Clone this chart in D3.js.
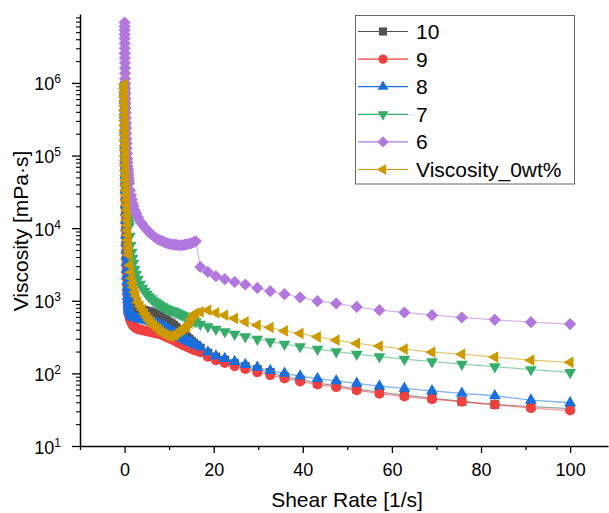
<!DOCTYPE html>
<html><head><meta charset="utf-8">
<script src="https://cdn.jsdelivr.net/npm/d3@7"></script>
<style>body{margin:0;background:#fff} text{font-family:"Liberation Sans",Arial,sans-serif;fill:#000}</style>
</head><body><svg id="c" width="609" height="513"></svg>
<script>
// ---- data ----
const shearRate = [0.01,0.015,0.02,0.025,0.03,0.04,0.05,0.06,0.07,0.085,0.1,0.115,0.13,0.145,0.16,0.18,0.2,0.225,0.25,0.275,0.3,0.325,0.35,0.375,0.4,0.45,0.5,0.55,0.6,0.65,0.7,0.75,0.8,0.85,0.9,0.95,1.0,
  1.2,1.4,1.6,1.8,2.0,2.3,2.6,3.0,3.5,4,4.5,5,5.5,6,6.5,7,7.5,8,8.5,9,9.5,10,10.5,11,11.5,12,12.5,13,13.5,14,14.5,15,15.5,16,
  17.0,18.7,20.5,22.5,24.7,27.1,29.8,32.7,35.9,39.4,43.3,47.5,52.1,57.2,62.8,69.0,75.7,83.1,91.2,100];

const visc10 = [9.25e5,7.4e5,5.93e5,4.75e5,3.8e5,3.05e5,2.44e5,1.96e5,1.57e5,1.26e5,1.01e5,8.1e4,6.46e4,5.2e4,4.15e4,3.3e4,2.66e4,2.13e4,1.71e4,1.37e4,1.10e4,8800,7040,5730,4660,3800,3090,2600,2180,1890,1640,1470,1310,1210,1120,1060,1003,
  927,870,843,817,804,791,778,766,755,743,731,719,708,697,675,654,634,614,586,558,532,508,484,462,433,407,382,358,336,316,296,278,261,245,
  223,190,168,152,136,124,113,103,89.8,82.2,73.5,67.9,60.8,55.3,50.3,45.7,41.0,37.2,34.9,32.8];
const visc9 = [8.95e5,7.06e5,5.57e5,4.39e5,3.46e5,2.73e5,2.15e5,1.7e5,1.34e5,1.06e5,8.32e4,6.56e4,5.18e4,4.08e4,3.22e4,2.54e4,2.0e4,1.57e4,1.24e4,9800,7740,6100,4810,3920,3190,2560,2050,1690,1400,1210,1052,942,843,779,719,675,634,
  567,524,492,469,454,433,420,407,400,394,388,382,376,370,364,358,353,347,336,326,316,306,296,287,278,265,257,249,241,234,226,219,212,206,
  196,170,152,139,126,115,104,94.8,85.4,77.6,70.2,64.8,58.9,52.7,48.0,44.3,40.7,37.2,33.3,30.8];
const visc8 = [9.25e5,7.3e5,5.7e5,4.5e5,3.57e5,2.82e5,2.22e5,1.75e5,1.38e5,1.09e5,8.6e4,6.8e4,5.34e4,4.2e4,3.32e4,2.62e4,2.07e4,1.63e4,1.28e4,1.01e4,7980,6300,4970,4040,3290,2680,2180,1830,1540,1340,1160,1040,927,856,791,754,719,
  665,634,614,604,595,586,577,567,558,550,541,532,524,516,500,492,477,462,448,433,420,400,382,364,347,331,316,306,296,283,274,265,257,245,
  230,196,173,160,145,132,121,109,100,91.8,84.8,79.1,72.8,66.9,62.2,57.6,53.1,49.2,42.9,39.4];
const visc7 = [8.95e5,8.0e5,7.2e5,6.4e5,5.7e5,5.05e5,4.46e5,3.93e5,3.46e5,3.05e5,2.69e5,2.37e5,2.08e5,1.84e5,1.62e5,1.43e5,1.26e5,1.11e5,9.75e4,8.6e4,7.57e4,6.67e4,5.87e4,5.17e4,4.56e4,3.9e4,3.32e4,2.88e4,2.5e4,2.2e4,1.94e4,1.73e4,1.55e4,1.41e4,1.28e4,1.16e4,1.06e4,
  7740,5820,4660,3850,3290,2720,2320,1980,1690,1490,1355,1233,1138,1069,1003,957,912,870,830,800,775,752,731,719,697,675,654,634,614,595,567,550,532,516,
  477,440,407,376,347,321,296,274,253,234,216,199,184,170,157,145,134,124,113,103];
const visc6 = [6.8e6,6.0e6,5.3e6,4.65e6,4.1e6,3.5e6,3.0e6,2.57e6,2.2e6,1.88e6,1.6e6,1.36e6,1.15e6,9.8e5,8.4e5,7.2e5,6.1e5,5.2e5,4.5e5,3.85e5,3.3e5,2.8e5,2.4e5,2.0e5,1.7e5,1.46e5,1.26e5,1.07e5,9.1e4,8.0e4,7.1e4,6.5e4,5.9e4,5.4e4,4.9e4,4.5e4,4.15e4,
  3.3e4,2.85e4,2.5e4,2.2e4,2.0e4,1.76e4,1.6e4,1.41e4,1.24e4,1.13e4,1.03e4,9500,8800,8240,7740,7380,7040,6820,6600,6400,6200,6100,6010,5920,5920,5820,5820,5820,5920,6010,6100,6200,6400,6600,
  2925,2500,2180,1983,1820,1675,1505,1355,1233,1110,987,918,824,743,690,634,589,546,508,477];
const visc0wt = [9.5e5,8.4e5,7.4e5,6.5e5,5.7e5,4.9e5,4.2e5,3.6e5,3.05e5,2.6e5,2.22e5,1.9e5,1.62e5,1.38e5,1.18e5,1.0e5,8.6e4,7.3e4,6.25e4,5.3e4,4.56e4,3.9e4,3.32e4,2.83e4,2.42e4,2.06e4,1.76e4,1.5e4,1.28e4,1.09e4,9350,7980,6820,6000,5290,4740,4240,
  3090,2470,2050,1750,1540,1310,1160,957,843,755,665,595,541,500,462,433,407,382,358,342,331,326,326,336,346,370,388,407,427,448,492,558,634,675,
  703,743,682,634,571,513,462,430,385,355,319,287,259,238,216,196,184,168,152,142];

const seriesNames = ["10","9","8","7","6","Viscosity_0wt%"];
const seriesColors = ["#515151","#F14040","#1A6FDF","#37AD6B","#B177DE","#CC9900"];
const xTickValues = [0,20,40,60,80,100];
const xMinorValues = [-10,10,30,50,70,90];
const yTickExponents = [1,2,3,4,5,6];

// ---- scales ----
const svg = d3.select("#c");
const x = d3.scaleLinear().domain([-10,108.5]).range([80,608]);
const y = d3.scaleLog().domain([10,8.9e6]).range([446,14]);

const series = [visc10,visc9,visc8,visc7,visc6,visc0wt].map((v,i)=>({
  name: seriesNames[i], color: seriesColors[i],
  pts: shearRate.map((s,j)=>({x:s, y:v[j]})).filter(d=>d.y!==undefined)
}));

const symbols = [
  {type:d3.symbolSquare, size:78, rot:0},
  {type:d3.symbolCircle, size:80, rot:0},
  {type:d3.symbolTriangle, size:60, rot:0},
  {type:d3.symbolTriangle, size:60, rot:180},
  {type:d3.symbolSquare, size:74, rot:45},
  {type:d3.symbolTriangle, size:60, rot:-90}
];

const line = d3.line().x(d=>x(d.x)).y(d=>y(d.y));

series.forEach((s,i)=>{
  const g = svg.append("g");
  g.append("path").datum(s.pts).attr("d",line).attr("fill","none")
    .attr("stroke",s.color).attr("stroke-opacity",0.55).attr("stroke-width",1.3);
  const sym = d3.symbol().type(symbols[i].type).size(symbols[i].size)();
  g.selectAll("path.m").data(s.pts).join("path").attr("class","m")
    .attr("d",sym).attr("fill",s.color)
    .attr("transform",d=>`translate(${x(d.x)},${y(d.y)}) rotate(${symbols[i].rot})`);
});

// ---- axes ----
const xAxis = svg.append("g").attr("transform","translate(0,446)")
  .call(d3.axisBottom(x).tickValues(xTickValues).tickSize(7).tickSizeOuter(0).tickPadding(10.5).tickFormat(d3.format("d")));
xAxis.select(".domain").attr("stroke","#000").attr("stroke-width",1.5);
xAxis.selectAll(".tick line").attr("stroke-width",1.3);
xAxis.selectAll("text").attr("font-size",18).attr("font-family","Liberation Sans, Arial, sans-serif");
const xMinor = svg.append("g").attr("transform","translate(0,446)")
  .call(d3.axisBottom(x).tickValues(xMinorValues).tickSize(4).tickSizeOuter(0).tickFormat(""));
xMinor.select(".domain").remove();
xMinor.selectAll(".tick line").attr("stroke-width",1.3);

const yMajor = yTickExponents.map(e=>Math.pow(10,e));
const yMinor = [];
for (let e=1;e<=6;e++) for (let k=2;k<=9;k++){ const v=k*Math.pow(10,e); if (v<=8.9e6) yMinor.push(v); }

const yAxis = svg.append("g").attr("transform","translate(80,0)")
  .call(d3.axisLeft(y).tickValues(yMajor).tickSize(8).tickSizeOuter(0).tickFormat(""));
yAxis.select(".domain").attr("stroke","#000").attr("stroke-width",1.5);
yAxis.selectAll(".tick line").attr("stroke-width",1.3);
const yMin = svg.append("g").attr("transform","translate(80,0)")
  .call(d3.axisLeft(y).tickValues(yMinor).tickSize(4).tickSizeOuter(0).tickFormat(""));
yMin.select(".domain").remove();
yMin.selectAll(".tick line").attr("stroke-width",1.1);

// y labels with superscripts
yTickExponents.forEach(e=>{
  const t = svg.append("text").attr("x",61).attr("y",y(Math.pow(10,e))+7.5)
    .attr("text-anchor","end");
  t.append("tspan").attr("font-size",18).text("10");
  t.append("tspan").attr("font-size",12).attr("dy",-7).text(String(e));
});

// titles
svg.append("text").attr("x",347).attr("y",507).attr("text-anchor","middle")
  .attr("font-size",21).text("Shear Rate [1/s]");
svg.append("text").attr("transform","translate(28,231) rotate(-90)").attr("text-anchor","middle")
  .attr("font-size",21).text("Viscosity [mPa·s]");

// ---- legend ----
const lg = svg.append("g");
lg.append("rect").attr("x",355.5).attr("y",15.5).attr("width",219).attr("height",168.5)
  .attr("fill","#fff").attr("stroke","#666").attr("stroke-width",1);
series.forEach((s,i)=>{
  const cy = 31.5 + i*27.6;
  lg.append("line").attr("x1",358).attr("x2",408).attr("y1",cy).attr("y2",cy)
    .attr("stroke",s.color).attr("stroke-width",1.2);
  const sym = d3.symbol().type(symbols[i].type).size(symbols[i].size*0.85)();
  lg.append("path").attr("d",sym).attr("fill",s.color)
    .attr("transform",`translate(383,${cy}) rotate(${symbols[i].rot})`);
  lg.append("text").attr("x",416).attr("y",cy).attr("dy","0.36em").attr("font-size",21).text(s.name);
});
</script>
</body></html>
